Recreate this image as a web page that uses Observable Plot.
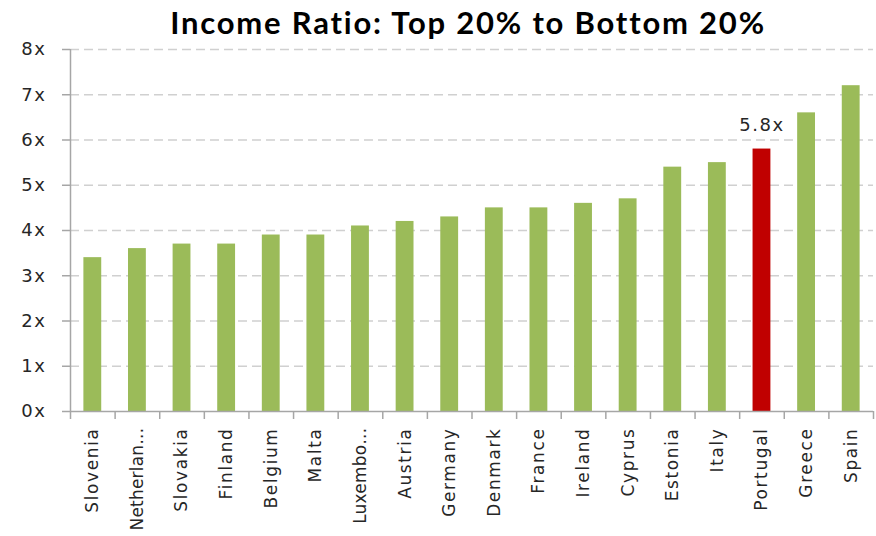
<!DOCTYPE html>
<html><head><meta charset="utf-8">
<script src="https://cdn.jsdelivr.net/npm/d3@7"></script>
<script src="https://cdn.jsdelivr.net/npm/@observablehq/plot@0.6"></script>
<style>
body{margin:0;background:#fff;}
#title{height:44px;line-height:44px;font-family:Lato,sans-serif;font-weight:bold;font-size:31px;letter-spacing:1.8px;text-align:center;color:#000;padding-left:60px;box-sizing:border-box;}
#chart svg{overflow:visible;}
</style>
</head><body>
<div id="title">Income Ratio: Top 20% to Bottom 20%</div>
<div id="chart"></div>
<script>
const countries = ["Slovenia","Netherlands","Slovakia","Finland","Belgium","Malta","Luxembourg","Austria","Germany","Denmark","France","Ireland","Cyprus","Estonia","Italy","Portugal","Greece","Spain"];
const shownLabels = ["Slovenia","Netherlan…","Slovakia","Finland","Belgium","Malta","Luxembo…","Austria","Germany","Denmark","France","Ireland","Cyprus","Estonia","Italy","Portugal","Greece","Spain"];
const ratios = [3.4,3.6,3.7,3.7,3.9,3.9,4.1,4.2,4.3,4.5,4.5,4.6,4.7,5.4,5.5,5.8,6.6,7.2];
const highlighted = "Portugal";
const yTicks = [0,1,2,3,4,5,6,7,8];
const gridTicks = [1,2,3,4,5,6,7,8];

const data = countries.map((c,i)=>({country:c, label:shownLabels[i], ratio:ratios[i]}));
const labelOf = new Map(data.map(d=>[d.country,d.label]));

const W = 876, H = 492, mL = 70, mR = 3, mT = 5, mB = 125;
const step = (W - mL - mR) / countries.length;
const font = "DejaVu Sans, sans-serif";

const chart = Plot.plot({
  width: W, height: H,
  marginLeft: mL, marginRight: mR, marginTop: mT, marginBottom: mB,
  style: {fontFamily: font, fontSize: "18px", letterSpacing: "1.6px", color: "#262626", background: "#fff"},
  x: {domain: countries, paddingInner: 0.6, paddingOuter: 0.3, align: 0.5, round: false},
  y: {domain: [0, 8]},
  marks: [
    Plot.gridY(gridTicks, {stroke: "#d0d0d0", strokeOpacity: 1, strokeWidth: 1.3, strokeDasharray: "9,5"}),
    Plot.barY(data, {x: "country", y: "ratio", fill: d => d.country === highlighted ? "#C00000" : "#9BBB59"}),
    Plot.ruleY([0], {stroke: "#a6a6a6", strokeWidth: 1.5}),
    Plot.ruleX([countries[0]], {x: d => d, dx: -step/2, y1: 0, y2: 8, stroke: "#a6a6a6", strokeWidth: 1.5}),
    Plot.ruleX(countries, {x: d => d, dx: -step/2, y1: 0, y2: 0, insetBottom: -8, stroke: "#a6a6a6", strokeWidth: 1.5}),
    Plot.ruleX([countries[countries.length-1]], {x: d => d, dx: step/2, y1: 0, y2: 0, insetBottom: -8, stroke: "#a6a6a6", strokeWidth: 1.5}),
    Plot.axisY(yTicks, {tickFormat: d => d + "x", tickSize: 8, tickPadding: 16, stroke: "#a6a6a6", strokeWidth: 1.5, fill: "#262626", fontSize: 18, label: null}),
    Plot.axisX({tickFormat: d => labelOf.get(d), tickRotate: -90, tickSize: 0, tickPadding: 16, fill: "#262626", fontSize: 17, label: null}),
    Plot.text(data.filter(d => d.country === highlighted), {x: "country", y: "ratio", text: d => d.ratio.toFixed(1) + "x", dy: -24, fill: "#262626", fontSize: 18})
  ]
});
// truncated labels are set tighter so they fit like in the original
d3.select(chart).selectAll('g[aria-label="x-axis tick label"] text')
  .filter(function(){ return this.textContent.includes("…"); })
  .style("letter-spacing", "0.2px");
document.getElementById("chart").appendChild(chart);
</script>
</body></html>
